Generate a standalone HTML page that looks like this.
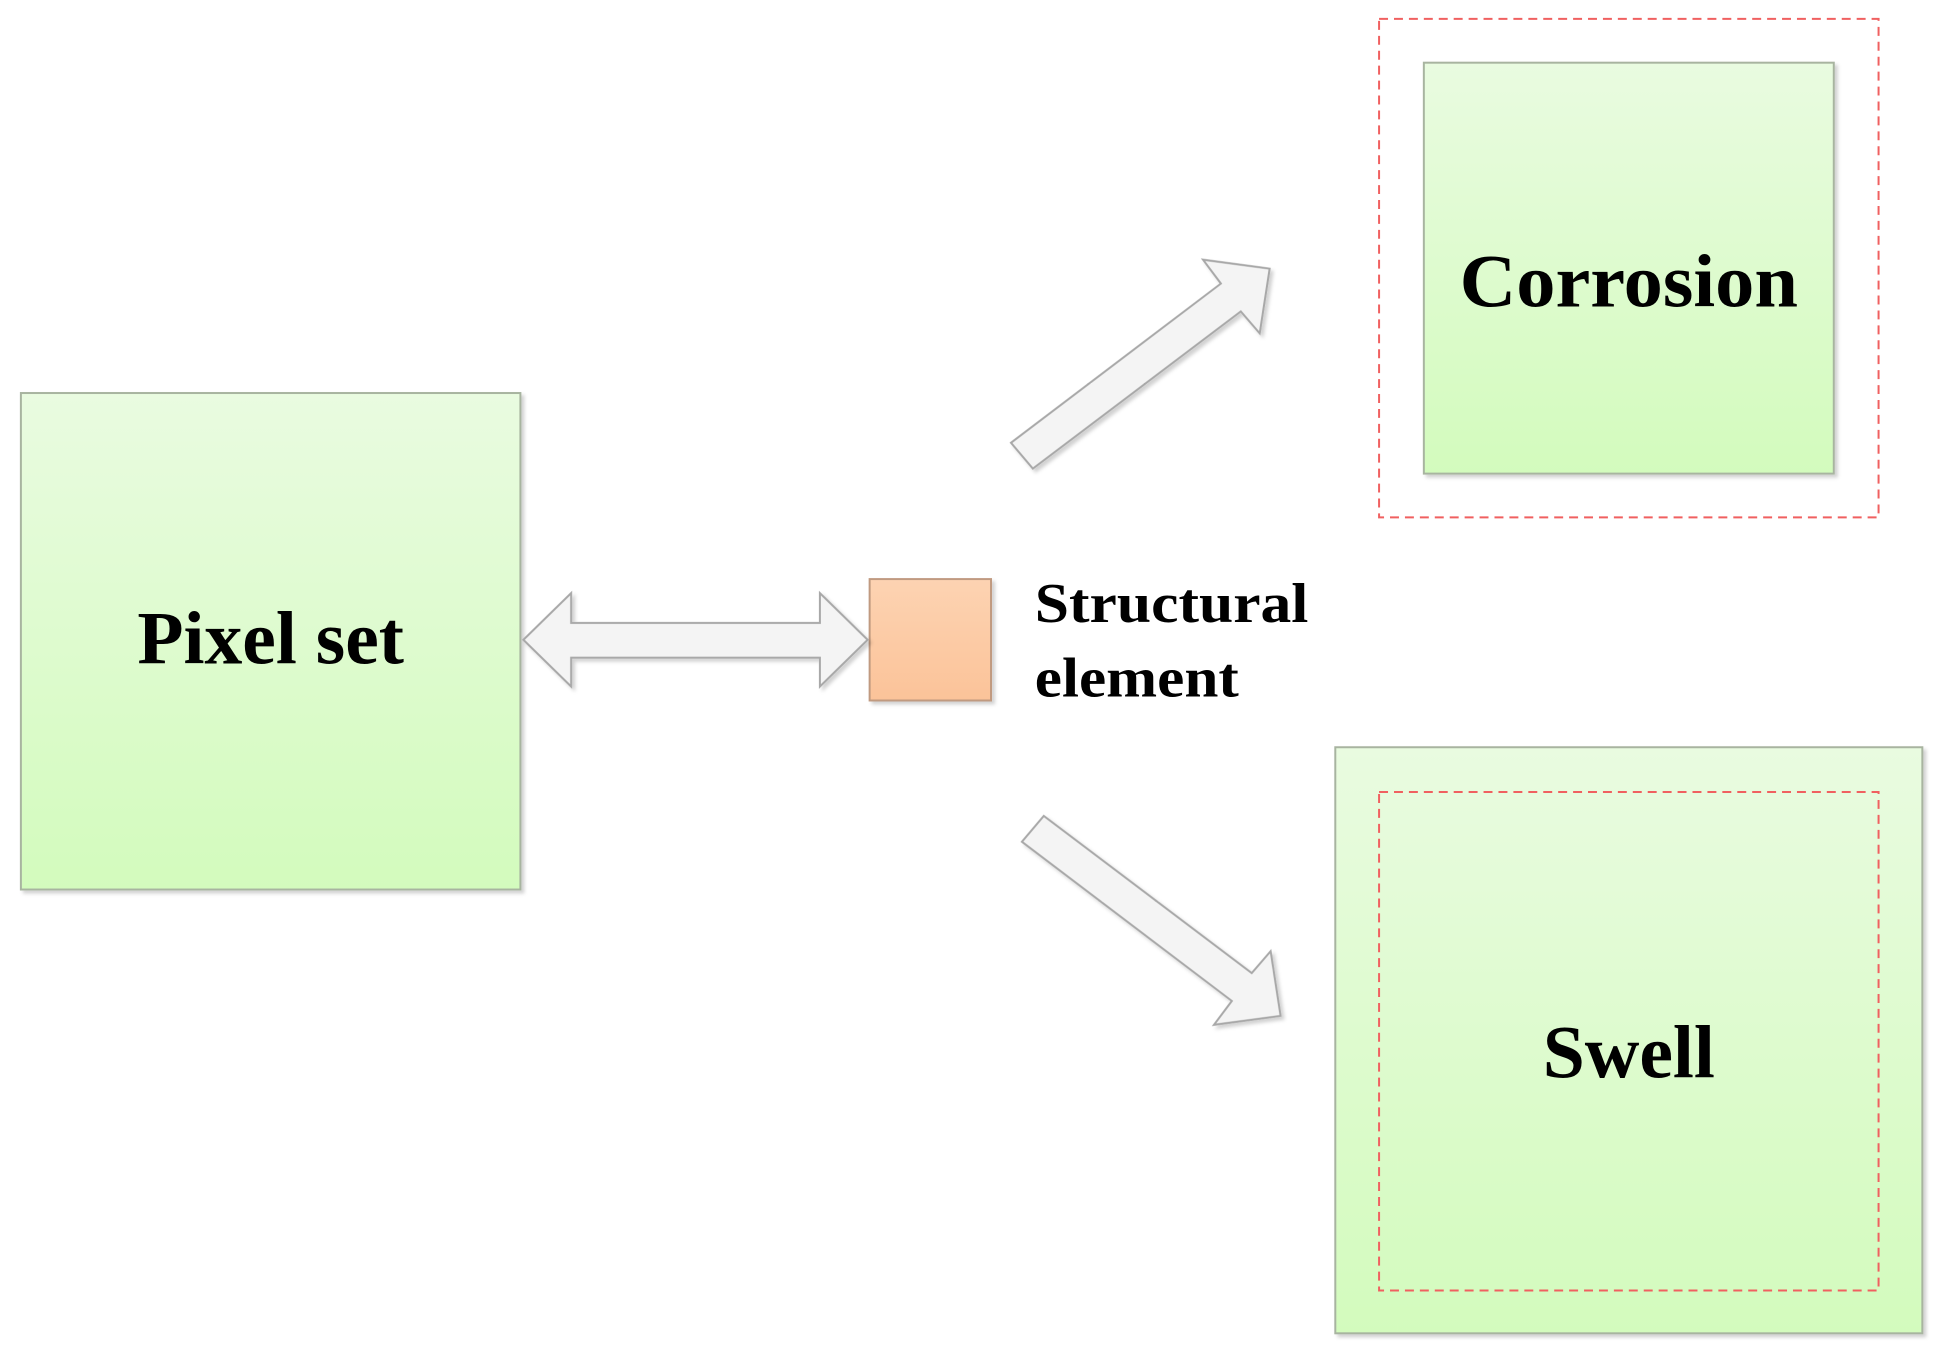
<!DOCTYPE html>
<html><head><style>body{margin:0;background:#fff}svg{display:block}</style></head><body>
<svg width="1939" height="1360" viewBox="0 0 1939 1360" xmlns="http://www.w3.org/2000/svg">
<defs>
<linearGradient id="g" x1="0" y1="0" x2="0" y2="1"><stop offset="0" stop-color="#e9fbe0"/><stop offset="1" stop-color="#d3fbbd"/></linearGradient>
<linearGradient id="o" x1="0" y1="0" x2="0" y2="1"><stop offset="0" stop-color="#fdd3b2"/><stop offset="1" stop-color="#fbc399"/></linearGradient>
<filter id="s"><feDropShadow dx="3" dy="3" stdDeviation="2" flood-color="#000" flood-opacity="0.18"/></filter>
</defs>
<g transform="scale(0.995)">
<g font-family="Liberation Serif, serif" font-weight="bold" fill="#000">
<rect x="21" y="395" width="502" height="499" fill="url(#g)" stroke="#a8b4a0" stroke-width="2" filter="url(#s)"/>
<text x="272" y="667" font-size="76" text-anchor="middle">Pixel set</text>
<rect x="1386" y="19" width="502" height="501" fill="none" stroke="#f06060" stroke-width="2" stroke-dasharray="9,6"/>
<rect x="1431" y="63" width="412" height="413" fill="url(#g)" stroke="#a8b4a0" stroke-width="2" filter="url(#s)"/>
<text x="1637" y="308" font-size="76" text-anchor="middle" textLength="340" lengthAdjust="spacingAndGlyphs">Corrosion</text>
<rect x="1342" y="751" width="590" height="589" fill="url(#g)" stroke="#a8b4a0" stroke-width="2" filter="url(#s)"/>
<rect x="1386" y="796" width="502" height="501" fill="none" stroke="#f06060" stroke-width="2" stroke-dasharray="9,6"/>
<text x="1637" y="1083" font-size="76" text-anchor="middle">Swell</text>
<rect x="874" y="582" width="122" height="122" fill="url(#o)" stroke="#c09a80" stroke-width="2" filter="url(#s)"/>
<text x="1040" y="625" font-size="56" textLength="275" lengthAdjust="spacingAndGlyphs">Structural</text>
<text x="1040" y="700" font-size="56" textLength="205" lengthAdjust="spacingAndGlyphs">element</text>
</g>
<g fill="#f4f4f4" stroke="#a8a8a8" stroke-width="2" filter="url(#s)">
<polygon transform="translate(4,2)" points="522,641 570,594 570,624 820,624 820,594 868,641 820,688 820,659 570,659 570,688"/>
<polygon transform="translate(8,2)" points="1008,443 1219,283 1201,259 1268,268 1258,333 1239,311 1030,469"/>
<polygon transform="translate(19,1289) scale(1,-1)" points="1008,443 1219,283 1201,259 1268,268 1258,333 1239,311 1030,469"/>
</g>
</g>
</svg>
</body></html>
